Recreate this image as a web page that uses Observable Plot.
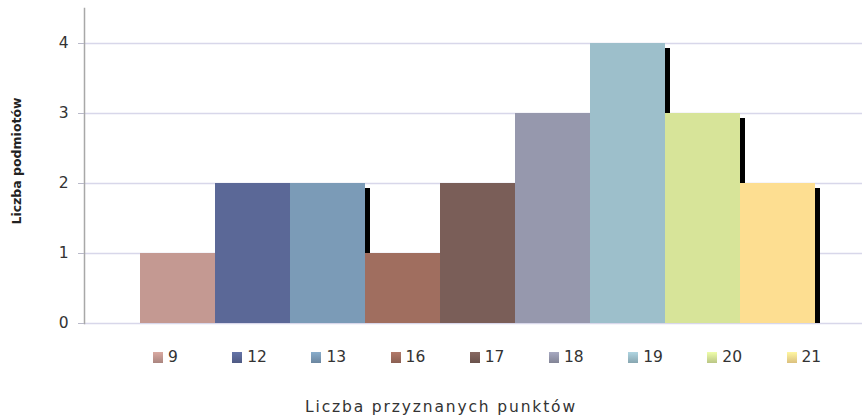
<!DOCTYPE html>
<html>
<head>
<meta charset="utf-8">
<script src="https://cdn.jsdelivr.net/npm/d3@7"></script>
<script src="https://cdn.jsdelivr.net/npm/@observablehq/plot@0.6"></script>
<style>
  body { margin: 0; background: #fff; }
  #wrap { position: relative; width: 864px; height: 419px; font-family: "DejaVu Sans", sans-serif; }
  #legend { position: absolute; left: 153px; top: 348px; display: flex; }
  .item { width: 79.2px; display: flex; align-items: center; font-size: 15.5px; color: #333; }
  .sw { width: 10px; height: 11px; margin-right: 5px; }
  #xtitle { position: absolute; left: 0; width: 882px; top: 398px; text-align: center; font-size: 15.5px; color: #333; letter-spacing: 1.85px; }
  #ytitle { position: absolute; left: 16px; top: 161px; transform: translate(-50%, -50%) rotate(-90deg); transform-origin: center; font-family: "DejaVu Sans", sans-serif; font-weight: bold; font-size: 12.5px; color: #222; white-space: nowrap; }
</style>
</head>
<body>
<div id="wrap">
  <div id="chart"></div>
  <div id="ytitle">Liczba podmiotów</div>
  <div id="legend"></div>
  <div id="xtitle">Liczba przyznanych punktów</div>
</div>
<script>
const categories = ["9", "12", "13", "16", "17", "18", "19", "20", "21"];
const counts = [1, 2, 2, 1, 2, 3, 4, 3, 2];
const colors = ["#c49992", "#5b6897", "#7b9bb7", "#a06e5f", "#7a5e58", "#9698ad", "#9dbfcb", "#d7e499", "#fdde91"];
const shadowed = ["13", "19", "20", "21"];
const yTicks = [0, 1, 2, 3, 4];

const data = categories.map((c, i) => ({cat: c, n: counts[i]}));

const chart = Plot.plot({
  width: 864,
  height: 340,
  marginTop: 8,
  marginBottom: 17,
  marginLeft: 84,
  marginRight: 2,
  style: {fontFamily: "DejaVu Sans, sans-serif", fontSize: "15.5px", color: "#333", background: "#fff"},
  x: {domain: categories, range: [140, 815], padding: 0, axis: null},
  y: {domain: [0, 4.5], ticks: yTicks},
  color: {domain: categories, range: colors},
  marks: [
    Plot.ruleY(yTicks, {stroke: "#d8d7ea", strokeWidth: 1.5}),
    Plot.frame({anchor: "left", stroke: "#a8a8a8", strokeWidth: 1.5}),
    Plot.axisY({ticks: yTicks, tickFormat: d3.format("d"), tickSize: 6, tickPadding: 10, stroke: "#b9b9c9", label: null, fill: "#333"}),
    Plot.barY(data.filter(d => shadowed.includes(d.cat)), {x: "cat", y: "n", fill: "black", dx: 5, insetTop: 5}),
    Plot.barY(data, {x: "cat", y: "n", fill: "cat"})
  ]
});
document.getElementById("chart").appendChild(chart);

const legend = document.getElementById("legend");
categories.forEach((c, i) => {
  const item = document.createElement("div");
  item.className = "item";
  const sw = document.createElement("div");
  sw.className = "sw";
  const base = d3.color(colors[i]);
  sw.style.background = `linear-gradient(${base.brighter(0.3)}, ${base.darker(0.4)})`;
  const t = document.createElement("span");
  t.textContent = c;
  item.appendChild(sw);
  item.appendChild(t);
  legend.appendChild(item);
});
</script>
</body>
</html>
